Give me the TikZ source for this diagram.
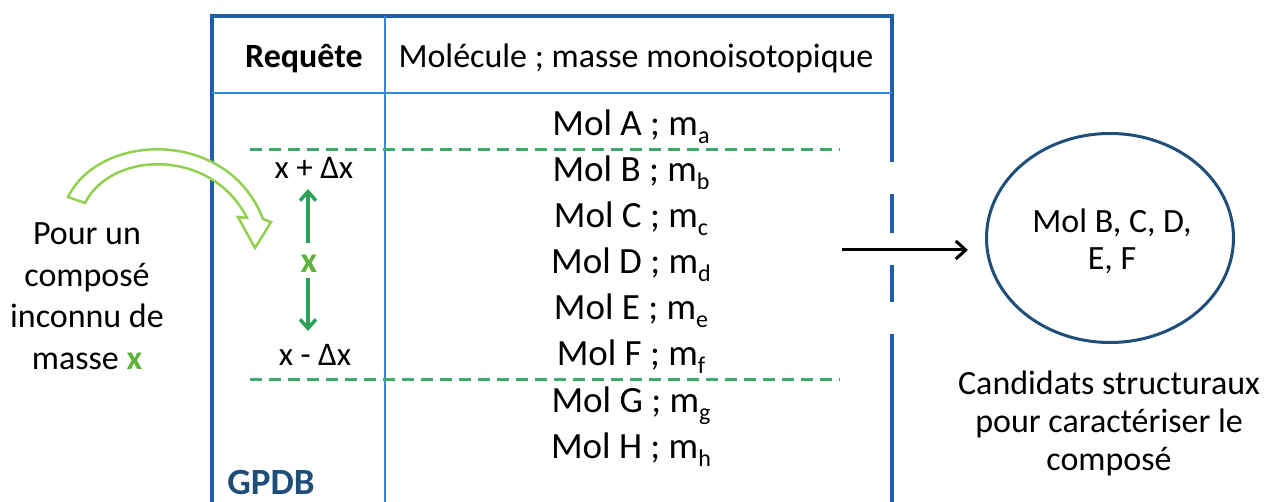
\documentclass[tikz,border=0pt]{standalone}
\usepackage{fontspec}
\setmainfont{Carlito}
\usetikzlibrary{arrows.meta,shapes.geometric}
\definecolor{frameblue}{HTML}{1F5FA8}
\definecolor{innerblue}{HTML}{3A86D8}
\definecolor{darkblue}{HTML}{1F4E79}
\definecolor{dashgreen}{HTML}{3DAA6B}
\definecolor{arrowgreen}{HTML}{2E9E5B}
\definecolor{xgreen}{HTML}{5DB33B}
\definecolor{lightgreen}{HTML}{92D050}
\newcommand{\fs}[1]{\fontsize{#1}{#1}\selectfont}
\newcommand{\molsub}[1]{\raisebox{-8pt}{\fs{24}#1}}
\tikzset{
  frame/.style={draw=frameblue,line width=3.5pt},
  inner/.style={draw=innerblue,line width=1.8pt},
  sep/.style={draw=dashgreen,line width=3pt,dash pattern=on 12pt off 7pt},
  mol/.style={anchor=base,inner sep=0pt,font=\fs{37}},
  hdr/.style={anchor=base,inner sep=0pt,font=\fs{34}},
  txt/.style={anchor=base,inner sep=0pt,font=\fs{34}},
  small/.style={anchor=base,inner sep=0pt,font=\fs{33}},
  garrow/.style={draw=arrowgreen,line width=3.5pt,-{Straight Barb[length=9pt,width=16pt]}},
}
\begin{document}
\begin{tikzpicture}[x=1pt,y=-1pt]
\useasboundingbox (0,0) rectangle (1266,502);
% frame
\draw[frame] (212,502) -- (212,16) -- (892,16) -- (892,162);
\draw[frame] (892,194) -- (892,233);
\draw[frame] (892,265) -- (892,302);
\draw[frame] (892,334) -- (892,502);
\draw[inner] (212,93) -- (892,93);
\draw[inner] (385,16) -- (385,502);
% header
\node[hdr,font=\fs{34}\bfseries] (req) at (304,68) {Requête};
\node[hdr] (molh) at (636,68) {Molécule ; masse monoisotopique};
% dashed separators
\coordinate (d1a) at (250,150); \coordinate (d1b) at (840,150);
\coordinate (d2a) at (250,380); \coordinate (d2b) at (840,380);
\draw[sep] (d1a) -- (d1b);
\draw[sep] (d2a) -- (d2b);
% molecules
\node[mol] (ma) at (631,136) {Mol A ; m\molsub{a}};
\node[mol] (mb) at (631,182) {Mol B ; m\molsub{b}};
\node[mol] (mc) at (631,228) {Mol C ; m\molsub{c}};
\node[mol] (md) at (631,274) {Mol D ; m\molsub{d}};
\node[mol] (me) at (631,320) {Mol E ; m\molsub{e}};
\node[mol] (mf) at (631,366) {Mol F ; m\molsub{f}};
\node[mol] (mg) at (631,412) {Mol G ; m\molsub{g}};
\node[mol] (mh) at (631,458) {Mol H ; m\molsub{h}};
% query column
\node[small] (xp) at (314,179) {x + Δx};
\node[small] (xm) at (315,366) {x - Δx};
\node[anchor=base,inner sep=0pt,font=\fs{36}\bfseries,text=xgreen] (xx) at (309,273) {x};
\coordinate (upa) at (308,243); \coordinate (upb) at (308,189);
\coordinate (dna) at (308,278); \coordinate (dnb) at (308,331);
\draw[garrow] (upa) -- (upb);
\draw[garrow] (dna) -- (dnb);
\node[anchor=base,inner sep=0pt,font=\fs{37}\bfseries,text=darkblue] (gpdb) at (271,494) {GPDB};
% left text
\node[txt] (l1) at (87,245) {Pour un};
\node[txt] (l2) at (87,287) {composé};
\node[txt] (l3) at (87,328) {inconnu de};
\node[txt] (l4) at (87,370) {masse \textcolor{xgreen}{\bfseries x}};
% curved hollow arrow
\draw[draw=lightgreen,line width=2.5pt,line join=miter,fill=white]
  (68,197) .. controls (100,132) and (228,128) .. (263,219)
  -- (271,222) -- (255,248) -- (238,217) -- (247,218)
  .. controls (212,148) and (112,150) .. (85,203) -- cycle;
% result arrow and ellipse
\coordinate (ra) at (842,250);
\coordinate (rb) at (968,250);
\node[draw=darkblue,line width=3pt,ellipse,minimum width=247pt,minimum height=209pt,inner sep=0pt] (res) at (1110,238) {};
\draw[line width=3pt,-{Straight Barb[length=10pt,width=18pt]}] (ra) -- (rb);
\node[anchor=base,inner sep=0pt,font=\fs{34}] (r1) at (1112,233) {Mol B, C, D,};
\node[anchor=base,inner sep=0pt,font=\fs{34}] (r2) at (1112,270) {E, F};
\node[txt] (c1) at (1109,395) {Candidats structuraux};
\node[txt] (c2) at (1109,432) {pour caractériser le};
\node[txt] (c3) at (1109,470) {composé};
\end{tikzpicture}
\end{document}
